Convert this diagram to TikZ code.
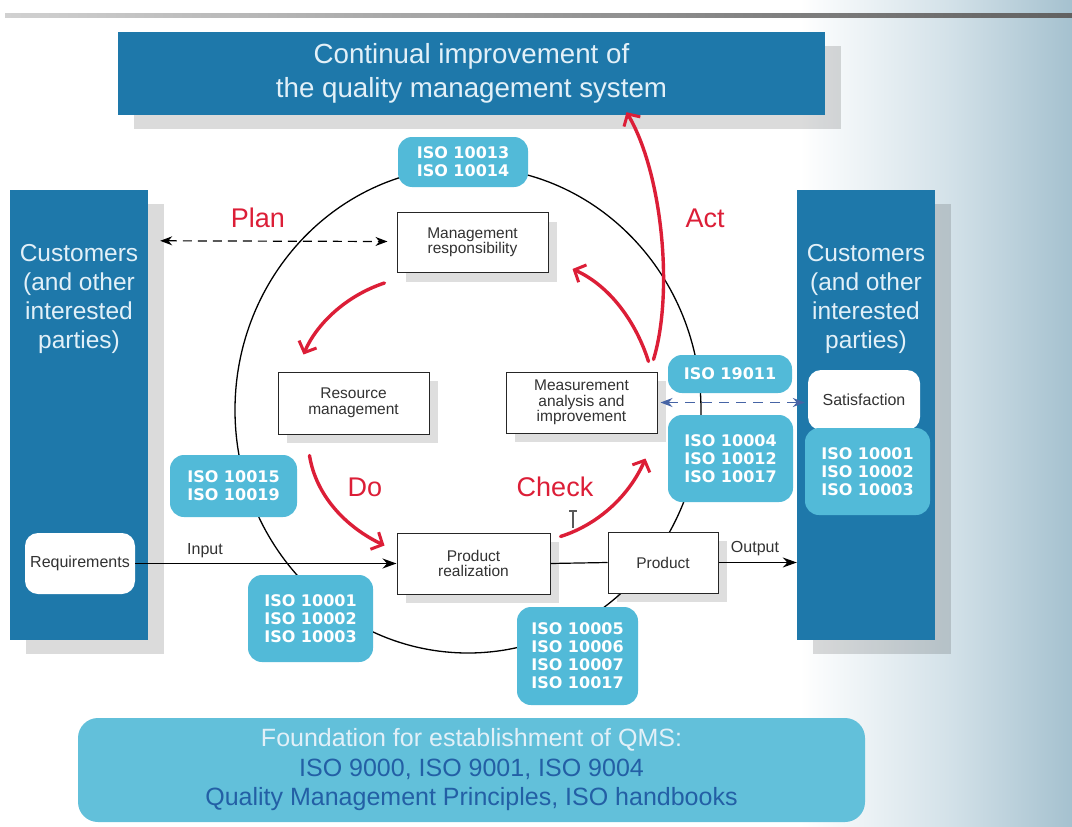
\documentclass[tikz,border=0pt]{standalone}
\usepackage{fontspec}
\setmainfont{Liberation Sans}
\newfontfamily\isofont{DejaVu Sans}
\usetikzlibrary{calc,arrows.meta,shadows}

\definecolor{panelblue}{RGB}{30,120,170}
\definecolor{isoblue}{RGB}{82,186,216}
\definecolor{basebox}{RGB}{98,192,218}
\definecolor{paletext}{RGB}{226,240,248}
\definecolor{darktext}{RGB}{35,95,165}
\definecolor{pdcared}{RGB}{220,30,55}
\definecolor{dashblue}{RGB}{70,100,165}
\definecolor{bgmid}{RGB}{212,226,233}
\definecolor{bgedge}{RGB}{165,193,207}
\definecolor{boxtext}{RGB}{50,50,50}

% the middle 50bp of an axis shading span the shaded path
\pgfdeclarehorizontalshading{sidefade}{100bp}{color(0bp)=(white); color(25bp)=(white); color(52bp)=(bgmid); color(75bp)=(bgedge); color(100bp)=(bgedge)}

\tikzset{
  bigshadow/.style={drop shadow={shadow xshift=16pt, shadow yshift=-14pt, fill=black, opacity=0.14}},
  smallshadow/.style={drop shadow={shadow xshift=9pt, shadow yshift=-9pt, fill=black, opacity=0.13}},
  titlebox/.style={fill=panelblue, text=paletext, align=center, inner sep=0pt,
    minimum width=707pt, minimum height=83pt, font=\fontsize{27.7}{34}\selectfont, bigshadow},
  panel/.style={fill=panelblue, inner sep=0pt, minimum width=138pt, minimum height=450pt, bigshadow},
  paneltext/.style={text=paletext, align=center, inner sep=0pt, font=\fontsize{24.5}{29}\selectfont},
  whitepill/.style={fill=white, rounded corners=13pt, inner sep=0pt, minimum height=60pt,
    text=boxtext, font=\fontsize{16}{16}\selectfont},
  isobox/.style={fill=isoblue, rounded corners=14pt, inner sep=0pt, text=white, align=center,
    font=\isofont\bfseries\fontsize{16}{18}\selectfont},
  procbox/.style={draw=black!85, line width=1pt, fill=white, inner sep=0pt, align=center,
    minimum height=61pt, text=boxtext, font=\fontsize{15.5}{15.5}\selectfont, smallshadow},
  flowlabel/.style={inner sep=0pt, text=boxtext, font=\fontsize{16}{16}\selectfont},
  pdcalabel/.style={inner sep=0pt, text=pdcared, font=\fontsize{27}{27}\selectfont},
  pdca/.style={pdcared, line width=3.4pt, line cap=round,
    -{Straight Barb[length=9pt,width=19pt,line width=3pt]}},
  flow/.style={black, line width=1.2pt, -{Stealth[length=14pt,width=10pt]}},
  plandash/.style={black, line width=1.2pt, dash pattern=on 9pt off 6pt,
    {Stealth[length=12pt,width=9pt]}-{Stealth[length=12pt,width=9pt]}},
  bluedash/.style={dashblue, line width=1.4pt, dash pattern=on 10pt off 7pt,
    {Stealth[length=12pt,width=9pt]}-{Stealth[length=12pt,width=9pt]}},
  cycleline/.style={black, line width=1.3pt}
}

\begin{document}
\begin{tikzpicture}[x=1pt,y=-1pt]
\useasboundingbox (0,0) rectangle (1072,827);

% page background with the fading band on the right
\fill[white] (0,0) rectangle (1072,827);
\shade[shading=sidefade] (800,0) rectangle (1072,827);
\shade[left color=black!18, right color=black!62] (5,13) rectangle (1072,17);

% process cycle
\draw[cycleline] (468,410) ellipse [x radius=233, y radius=243];

% title
\node[titlebox] (title) at (471.5,73.5) {Continual improvement of\\the quality management system};

% customer panels
\node[panel] (lpanel) at (79,415) {};
\node[panel] (rpanel) at (866,415) {};
\node[paneltext] (ltext) at (79,299) {Customers\\(and other\\interested\\parties)};
\node[paneltext] (rtext) at (866,299) {Customers\\(and other\\interested\\parties)};
\node[whitepill, minimum width=110pt, minimum height=61pt] (req) at (80,563.5) {Requirements};
\node[whitepill, minimum width=112pt] (sat) at (864,400) {Satisfaction};

% process boxes
\node[procbox, minimum width=151pt, minimum height=60pt] (mgmt) at (472.5,242.5) {Management\\responsibility};
\node[procbox, minimum width=151pt, minimum height=62pt] (res) at (353.5,403) {Resource\\management};
\node[procbox, minimum width=151pt] (meas) at (581.5,402.5) {Measurement\\analysis and\\improvement};
\node[procbox, minimum width=153pt] (prodreal) at (473.5,563.5) {Product\\realization};
\node[procbox, minimum width=110pt] (product) at (663,562.5) {Product};

% standards
\node[isobox, minimum width=130pt, minimum height=50pt] (iso1) at (463,162) {ISO 10013\\ISO 10014};
\node[isobox, minimum width=127pt, minimum height=62pt] (iso2) at (233.5,486) {ISO 10015\\ISO 10019};
\node[isobox, minimum width=125pt, minimum height=87pt] (iso3) at (310.5,618.5) {ISO 10001\\ISO 10002\\ISO 10003};
\node[isobox, minimum width=121pt, minimum height=98pt] (iso4) at (577.5,656) {ISO 10005\\ISO 10006\\ISO 10007\\ISO 10017};
\node[isobox, minimum width=124pt, minimum height=38pt] (iso5) at (730,374) {ISO 19011};
\node[isobox, minimum width=125pt, minimum height=87pt] (iso6) at (730.5,458.5) {ISO 10004\\ISO 10012\\ISO 10017};
\node[isobox, minimum width=125pt, minimum height=87pt] (iso7) at (867.5,471.5) {ISO 10001\\ISO 10002\\ISO 10003};

% foundation
\node[fill=basebox, rounded corners=20pt, minimum width=787pt, minimum height=104pt, inner sep=0pt,
  align=center, font=\fontsize{25}{29.5}\selectfont] (base) at (471.5,770)
  {\textcolor{paletext}{Foundation for establishment of QMS:}\\
   \textcolor{darktext}{ISO 9000, ISO 9001, ISO 9004}\\
   \textcolor{darktext}{Quality Management Principles, ISO handbooks}};

% flows
\draw[flow] (req.east) -- (prodreal.west);
\draw[black, line width=1.2pt] (prodreal.east) -- (product.west);
\draw[flow] (product.east) -- (product.east -| rpanel.west);
\node[flowlabel] (inlbl) at (205,551) {Input};
\node[flowlabel] (outlbl) at (755,549) {Output};

% communication links
\draw[plandash] ($(lpanel.north east)+(12,51)$) -- ($(mgmt.west)+(-9,-1)$);
\draw[bluedash] ($(meas.east)+(3,0)$) -- ($(meas.east -| sat.west)+(-3,0)$);

% PDCA cycle
\draw[pdca] ($(mgmt.south west)+(-12,10)$) .. controls (345,296) and (316,325) .. ($(res.north west)+(26,-17)$);
\draw[pdca] ($(res.south west)+(32,21)$) .. controls (316,496) and (346,527) .. ($(prodreal.west)+(-12,-18)$);
\draw[pdca] ($(prodreal.north east)+(10,4)$) .. controls (600,524) and (630,494) .. ($(meas.south east)+(-12,25)$);
\draw[pdca] ($(meas.north east)+(-9,-10)$) .. controls (636,322) and (610,286) .. ($(mgmt.south east)+(24,-4)$);
\draw[pdca] ($(meas.north east)+(-4,-12)$) .. controls (674,292) and (662,172) .. ($(title.south)+(155,-3)$);
\node[pdcalabel] (plan) at (258,218) {Plan};
\node[pdcalabel] (do) at (365,487) {Do};
\node[pdcalabel] (check) at (555,487) {Check};
\node[pdcalabel] (act) at (705,218) {Act};

% text cursor
\draw[black!65, line width=1.2pt] (569,511) -- (577,511) (573,511) -- (573,528);
\end{tikzpicture}
\end{document}
